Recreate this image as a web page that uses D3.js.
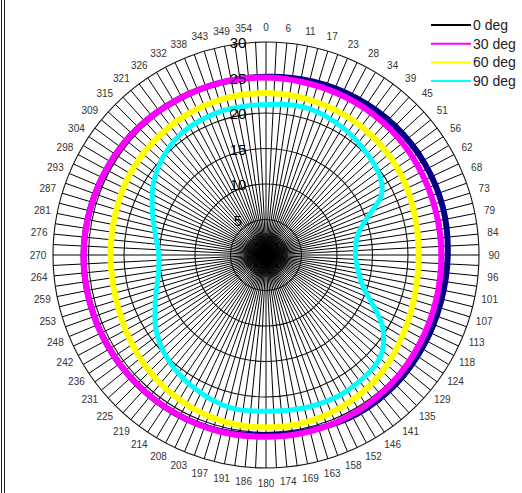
<!DOCTYPE html>
<html>
<head>
<meta charset="utf-8">
<script src="https://cdn.jsdelivr.net/npm/d3@7"></script>
<style>
  body { margin: 0; background: #fff; }
  svg { display: block; font-family: "Liberation Sans", Arial, sans-serif; }
</style>
</head>
<body>
<div class="vis-polar"></div>
<script>
// tick labels round the rim, one every 5.625 deg
const angleLabels = [0, 6, 11, 17, 23, 28, 34, 39, 45, 51, 56, 62, 68, 73, 79, 84,
    90, 96, 101, 107, 113, 118, 124, 129, 135, 141, 146, 152, 158, 163, 169, 174,
    180, 186, 191, 197, 203, 208, 214, 219, 225, 231, 236, 242, 248, 253, 259, 264,
    270, 276, 281, 287, 293, 298, 304, 309, 315, 321, 326, 332, 338, 343, 349, 354];
const radialTicks = [5, 10, 15, 20, 25, 30];
const seriesNames = ['0 deg', '30 deg', '60 deg', '90 deg'];
const seriesColors = ['#000080', '#ff00ff', '#ffff00', '#00ffff'];

const baseAngles = [0, 15, 30, 45, 60, 75, 90, 105, 120, 135, 150, 165,
    180, 195, 210, 225, 240, 255, 270, 285, 300, 315, 330, 345];
const deg0 = [25.1, 25.3, 25.5, 25.7, 25.8, 25.8, 25.6, 25.5, 25.6, 25.8, 25.8, 25.5,
    25.4, 25.6, 25.7, 25.7, 25.7, 25.7, 25.7, 25.6, 25.5, 25.4, 25.2, 25.1];
const deg30 = [25.0, 24.9, 24.9, 24.9, 24.8, 24.7, 24.7, 24.8, 25.0, 25.3, 25.5, 25.6,
    25.6, 25.7, 25.7, 25.7, 25.7, 25.7, 25.7, 25.6, 25.5, 25.4, 25.2, 25.1];
const deg60 = [22.8, 22.7, 22.6, 22.4, 22.1, 21.7, 21.5, 21.7, 22.3, 23.2, 23.8, 24.2,
    24.3, 24.2, 23.8, 23.2, 22.5, 22.0, 21.9, 22.0, 22.3, 22.5, 22.7, 22.8];
const cyanAngles = [0, 16, 32, 50, 58, 63, 68, 77, 90, 100, 109, 116, 122, 132, 150, 165,
    180, 193, 210, 225, 236, 248, 260, 270, 280, 290, 304, 322, 340];
const deg90 = [21.2, 21.5, 20.9, 19.9, 19.2, 18.2, 15.9, 13.3, 12.6, 13.2, 14.6, 17.0, 19.4, 21.6, 22.3, 22.2,
    22.0, 22.1, 21.2, 20.0, 18.7, 16.8, 15.4, 15.1, 15.8, 17.0, 19.0, 20.7, 21.2];

const series = [
    { angles: baseAngles, values: deg0, width: 6 },
    { angles: baseAngles, values: deg30, width: 6 },
    { angles: baseAngles, values: deg60, width: 6 },
    { angles: cyanAngles, values: deg90, width: 5 }
];

const W = 522, H = 493;
const cx = 266, cy = 255;
const svg = d3.select('.vis-polar').append('svg')
    .attr('width', W).attr('height', H);

// frame edge on the left
svg.append('line').attr('x1', 1.5).attr('x2', 1.5).attr('y1', 0).attr('y2', H)
    .attr('stroke', '#222').attr('stroke-width', 1);
svg.append('line').attr('x1', 4.5).attr('x2', 4.5).attr('y1', 0).attr('y2', H)
    .attr('stroke', '#222').attr('stroke-width', 1);

const r = d3.scaleLinear().domain([0, 30]).range([0, 213]);
const rad = d => d * Math.PI / 180;

const g = svg.append('g').attr('transform', 'translate(' + cx + ',' + cy + ')');

// spokes, twice as many as labels
const grid = g.append('g').attr('class', 'grid');
grid.selectAll('line.spoke')
    .data(d3.range(128).map(i => i * 360 / 128))
    .join('line')
    .attr('class', 'spoke')
    .attr('x1', 0).attr('y1', 0)
    .attr('x2', d => r(30) * Math.sin(rad(d)))
    .attr('y2', d => -r(30) * Math.cos(rad(d)))
    .attr('stroke', '#000')
    .attr('stroke-width', 1);

// dark hub where the spokes crowd together
g.append('circle').attr('r', 22).attr('fill', '#000').attr('fill-opacity', 0.55);

grid.selectAll('circle.ring')
    .data(radialTicks)
    .join('circle')
    .attr('class', 'ring')
    .attr('r', d => r(d))
    .attr('fill', 'none')
    .attr('stroke', '#111')
    .attr('stroke-width', 1.1);

// rim labels
g.append('g').selectAll('text')
    .data(angleLabels)
    .join('text')
    .attr('x', (d, i) => (r(30) + 15) * Math.sin(rad(i * 5.625)))
    .attr('y', (d, i) => -(r(30) + 15) * Math.cos(rad(i * 5.625)))
    .attr('dy', '0.35em')
    .attr('text-anchor', 'middle')
    .attr('font-size', 10)
    .attr('fill', '#333')
    .text(d => d);

// curves
const radial = d3.lineRadial()
    .angle(d => rad(d[0]))
    .radius(d => r(d[1]))
    .curve(d3.curveCatmullRomClosed);

g.append('g').selectAll('path')
    .data(series)
    .join('path')
    .attr('d', s => radial(s.angles.map((a, i) => [a, s.values[i]])))
    .attr('fill', 'none')
    .attr('stroke', (s, i) => seriesColors[i])
    .attr('stroke-width', s => s.width);

// radial tick labels
g.append('g').selectAll('text')
    .data(radialTicks)
    .join('text')
    .attr('x', -28)
    .attr('y', d => -r(d))
    .attr('dy', '0.4em')
    .attr('text-anchor', 'middle')
    .attr('font-size', 15)
    .attr('fill', '#000')
    .text(d => d);

// legend
const legend = svg.append('g').attr('transform', 'translate(431,25)');
const item = legend.selectAll('g')
    .data(seriesNames)
    .join('g')
    .attr('transform', (d, i) => 'translate(0,' + (i * 18.7) + ')');
item.append('line')
    .attr('x1', 0).attr('x2', 40)
    .attr('stroke', (d, i) => i === 0 ? '#000' : seriesColors[i])
    .attr('stroke-width', 2);
item.append('text')
    .attr('x', 42)
    .attr('dy', '0.35em')
    .attr('font-size', 14)
    .attr('fill', '#222')
    .text(d => d);
</script>
</body>
</html>
